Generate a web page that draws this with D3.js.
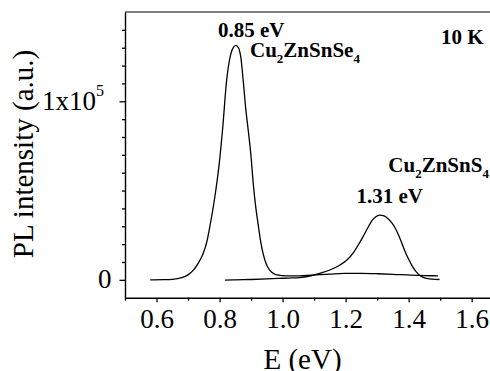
<!DOCTYPE html>
<html><head><meta charset="utf-8">
<script src="https://cdn.jsdelivr.net/npm/d3@7"></script>
<style>
html,body{margin:0;padding:0;background:#fff;}
svg{display:block;}
text{font-family:"Liberation Serif","Times New Roman",serif;fill:#000;}
</style></head>
<body>
<svg id="c" width="490" height="371"></svg>
<script>
// ---- data (energy in eV, intensity in units of 1e5 counts) ----
const czteE = [0.580,0.620,0.650,0.680,0.700,0.717,0.732,0.748,0.760,0.769,0.785,0.799,0.810,0.822,0.835,0.845,0.852,0.860,0.868,0.875,0.883,0.891,0.900,0.906,0.914,0.922,0.930,0.938,0.948,0.959,0.972,0.986,1.010,1.055,1.090,1.150,1.197,1.250,1.303,1.350,1.408,1.450,1.493];
const czteI = [0.000,0.001,0.003,0.012,0.028,0.054,0.092,0.148,0.215,0.297,0.464,0.651,0.850,1.110,1.260,1.305,1.313,1.300,1.240,1.117,0.960,0.838,0.690,0.557,0.420,0.316,0.220,0.148,0.090,0.054,0.035,0.026,0.022,0.022,0.026,0.032,0.036,0.036,0.034,0.031,0.026,0.024,0.022];
const cztsE = [0.817,0.850,0.900,0.950,0.986,1.020,1.055,1.090,1.118,1.150,1.181,1.205,1.223,1.240,1.255,1.270,1.281,1.295,1.308,1.322,1.334,1.348,1.361,1.374,1.387,1.400,1.413,1.424,1.435,1.446,1.456,1.475,1.498];
const cztsI = [-0.002,0.000,0.002,0.005,0.008,0.010,0.013,0.022,0.036,0.055,0.082,0.112,0.148,0.195,0.241,0.290,0.325,0.352,0.362,0.358,0.344,0.316,0.278,0.225,0.166,0.115,0.073,0.045,0.026,0.014,0.008,0.004,0.002];
const xMajor = [0.6,0.8,1.0,1.2,1.4,1.6];
const xMinor = [0.5,0.7,0.9,1.1,1.3,1.5];
const yMajor = [0, 100000];
const yMinor = [10000,20000,30000,40000,50000,60000,70000,80000,90000,110000,120000,130000,140000];

const svg = d3.select("#c");
const x = d3.scaleLinear().domain([0.5, 1.66]).range([125, 490.6]);
const y = d3.scaleLinear().domain([-10000, 150000]).range([297.7, 12]);

// top frame line (grey)
svg.append("line").attr("x1",125).attr("x2",490).attr("y1",12).attr("y2",12)
  .attr("stroke","#808080").attr("stroke-width",2);

// x axis
const gx = svg.append("g").attr("transform","translate(0,297.7)");
gx.call(d3.axisBottom(x).tickValues(xMinor).tickSize(3).tickFormat(""));
gx.call(g=>g.select(".domain").remove());
const gx2 = svg.append("g").attr("transform","translate(0,297.7)");
gx2.call(d3.axisBottom(x).tickValues(xMajor).tickSize(4.5).tickSizeOuter(0).tickPadding(6).tickFormat(d3.format(".1f")));
gx2.selectAll("text").attr("font-size",27).attr("dy","0.75em");
svg.selectAll("g .tick line").attr("stroke-width",1.3);
gx2.select(".domain").attr("stroke-width",1.4);

// y axis
const gy = svg.append("g").attr("transform","translate(125,0)");
gy.call(d3.axisLeft(y).tickValues(yMinor).tickSize(3).tickFormat(""));
gy.call(g=>g.select(".domain").remove());
const gy2 = svg.append("g").attr("transform","translate(125,0)");
gy2.call(d3.axisLeft(y).tickValues(yMajor).tickSize(5.5).tickSizeOuter(0).tickPadding(8).tickFormat(d=>d===0?"0":"1x10"));
gy2.selectAll("text").attr("font-size",27).attr("dy","0.3em");
gy2.selectAll(".tick").filter(d=>d!==0).select("text")
  .attr("dx","-0.28em")
  .append("tspan").attr("font-size",16).attr("dy","-0.85em").text("5");
gy2.select(".domain").attr("stroke-width",1.4);
svg.selectAll(".tick line").attr("stroke-width",1.3);

// curves
const line = d3.line().x(d=>x(d[0])).y(d=>y(d[1]*1e5)).curve(d3.curveMonotoneX);
svg.append("path").datum(czteE.map((e,i)=>[e,czteI[i]])).attr("d",line)
  .attr("fill","none").attr("stroke","#000").attr("stroke-width",1.3);
svg.append("path").datum(cztsE.map((e,i)=>[e,cztsI[i]])).attr("d",line)
  .attr("fill","none").attr("stroke","#000").attr("stroke-width",1.3);

// annotations
function bold(xp, yp, txt){ return svg.append("text").attr("x",xp).attr("y",yp)
  .attr("font-size",21).attr("font-weight","bold").text(txt); }
bold(218, 36.5, "0.85 eV");
bold(356.5, 203.3, "1.31 eV");
bold(441, 43.5, "10 K");
function formula(xp, yp, parts){
  const t = svg.append("text").attr("x",xp).attr("y",yp).attr("font-size",21).attr("font-weight","bold");
  parts.forEach(p=>{
    if (p.sub) t.append("tspan").attr("font-size",13).attr("dy",6.5).text(p.sub);
    else t.append("tspan").attr("dy",p.reset?-6.5:0).text(p.t);
  });
  return t;
}
formula(250, 56.5, [{t:"Cu"},{sub:"2"},{t:"ZnSnSe",reset:true},{sub:"4"}]);
formula(388.3, 171.5, [{t:"Cu"},{sub:"2"},{t:"ZnSnS",reset:true},{sub:"4"}]);

// axis titles
svg.append("text").attr("x",302.5).attr("y",368.5).attr("text-anchor","middle")
  .attr("font-size",29).text("E (eV)");
svg.append("text").attr("transform","translate(33,154) rotate(-90)").attr("text-anchor","middle")
  .attr("font-size",29).text("PL intensity (a.u.)");
</script>
</body></html>
